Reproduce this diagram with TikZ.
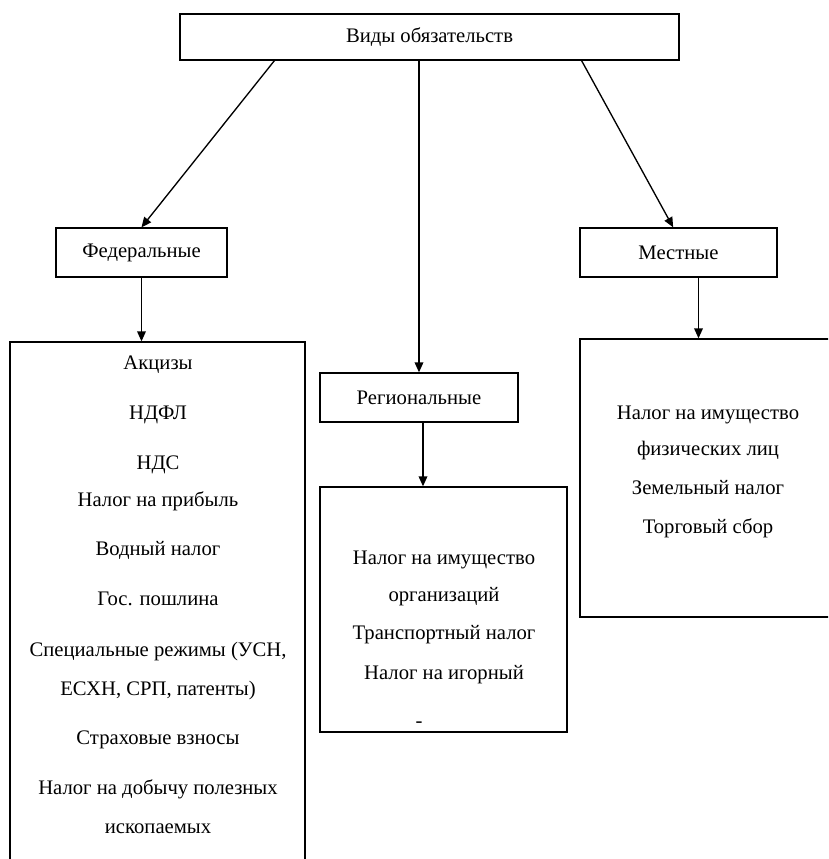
\documentclass[tikz,border=0pt]{standalone}
\usepackage{fontspec}
\setmainfont{Liberation Serif}
\usetikzlibrary{arrows.meta,calc}

\begin{document}
\begin{tikzpicture}[x=0.75pt,y=-0.75pt,>={Triangle[length=7.5pt,width=6.5pt]},
    box/.style={draw,line width=1pt,inner sep=0pt},
    txt/.style={inner sep=0pt,font=\fontsize{15.5}{18}\selectfont}]
    \useasboundingbox (0,0) rectangle (828,859);
    \clip (0,0) rectangle (828,859);
    % top level
    \node[box,txt,minimum width=374.25pt,minimum height=34.5pt] (vidy) at (429.5,37) {Виды обязательств};
    % second level
    \node[box,txt,minimum width=128.25pt,minimum height=36.75pt] (fed) at (141.5,252.5) {Федеральные};
    \node[box,txt,minimum width=148.5pt,minimum height=36.75pt] (reg) at (419,397.5) {Региональные};
    \node[box,txt,minimum width=147.75pt,minimum height=36.75pt] (mest) at (678.5,252.5) {Местные};
    % lists (cut by the page edge)
    \node[box,minimum width=221.25pt,minimum height=418.5pt] (fedlist) at (157.5,621) {};
    \node[box,minimum width=185.25pt,minimum height=183.75pt] (reglist) at (443.5,609.5) {};
    \node[box,minimum width=210pt,minimum height=208.5pt] (mestlist) at (720,478) {};
    % federal taxes
    \foreach \y/\t [count=\i] in {369/Акцизы, 419/НДФЛ, 469/НДС, 506/Налог на прибыль,
        555/Водный налог, 605/Гос. пошлина, 656/{Специальные режимы (УСН,},
        695/{ЕСХН, СРП, патенты)}, 744/Страховые взносы, 794/Налог на добычу полезных,
        833/ископаемых}
        \node[txt,anchor=base] (fed\i) at (158,\y) {\t};
    % regional taxes
    \foreach \y/\t [count=\i] in {564/Налог на имущество, 601/организаций,
        639/Транспортный налог, 679/Налог на игорный}
        \node[txt,anchor=base] (reg\i) at (444,\y) {\t};
    \node[txt] (regdash) at (419,725) {-};
    % local taxes
    \foreach \y/\t [count=\i] in {419/Налог на имущество, 455/физических лиц,
        494/Земельный налог, 533/Торговый сбор}
        \node[txt,anchor=base] (mest\i) at (708,\y) {\t};
    % arrows
    \draw[->,line width=1pt] ($(vidy.south west)!0.19!(vidy.south east)$) -- (fed.north);
    \draw[->,line width=1pt] (vidy.south -| reg.north) -- (reg.north);
    \draw[->,line width=1pt] ($(vidy.south west)!0.804!(vidy.south east)$) -- ([xshift=-4pt]mest.north);
    \draw[->,line width=1pt] (fed.south) -- (fed.south |- fedlist.north);
    \draw[->,line width=1pt] ([xshift=3pt]reg.south) -- ([xshift=3pt]reg.south |- reglist.north);
    \draw[->,line width=1pt] ([xshift=15pt]mest.south) -- ([xshift=15pt]mest.south |- mestlist.north);
\end{tikzpicture}
\end{document}
